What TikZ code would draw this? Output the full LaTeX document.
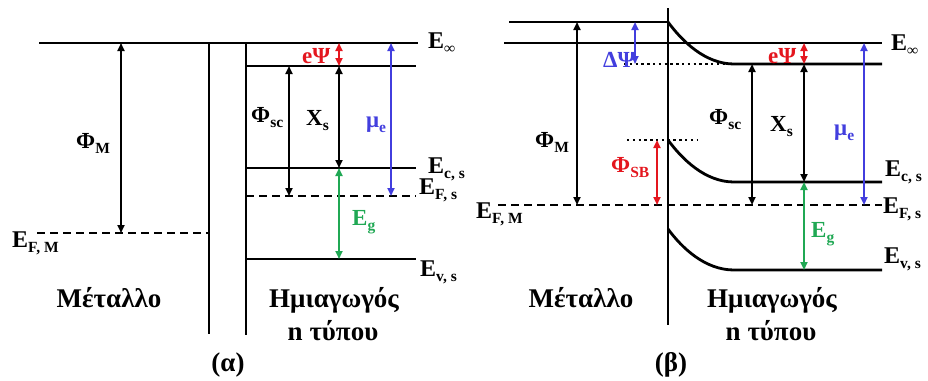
\documentclass[tikz,border=0pt]{standalone}
\usepackage{fontspec}
\setmainfont{Liberation Serif}
\usetikzlibrary{arrows.meta}
\definecolor{myred}{RGB}{228,22,30}
\definecolor{myblue}{RGB}{66,62,222}
\definecolor{mygreen}{RGB}{32,168,84}
\newcommand{\sbs}[1]{\raisebox{-5.5pt}{\fontsize{15.5}{15.5}\selectfont #1}}
\begin{document}
\begin{tikzpicture}[x=1pt,y=-1pt,
  lvl/.style={line width=2.8pt},
  dlvl/.style={line width=2.6pt, dash pattern=on 8pt off 5pt},
  dotl/.style={line width=2.8pt, dash pattern=on 2.4pt off 3.4pt},
  arr/.style={line width=1.9pt, {Triangle[length=8pt,width=7pt]}-{Triangle[length=8pt,width=7pt]}},
  lab/.style={font=\fontsize{23}{23}\selectfont\bfseries, inner sep=0pt, anchor=base west},
  elab/.style={font=\fontsize{24}{24}\selectfont\bfseries, inner sep=0pt, anchor=base west},
  txt/.style={font=\fontsize{27}{27}\selectfont\bfseries, inner sep=0pt, anchor=base},
]
\useasboundingbox (0,0) rectangle (928,380);

% ---------------- (a) ----------------
\draw[lvl] (39,43) -- (418,43);
\draw[lvl] (209,43) -- (209,334);
\draw[lvl] (246,43) -- (246,335);
\draw[lvl] (246,66) -- (416,66);
\draw[lvl] (246,168) -- (416,168);
\draw[dlvl] (246,196) -- (416,196);
\draw[dlvl] (37,233) -- (209,233);
\draw[lvl] (246,259) -- (416,259);

\draw[arr] (121,43) -- (121,233);
\draw[arr] (289,66) -- (289,196);
\draw[arr] (339,66) -- (339,168);
\draw[arr, myred] (339,43) -- (339,66);
\draw[arr, myblue] (391,43) -- (391,196);
\draw[arr, mygreen] (339,168) -- (339,259);

\node[lab] (aPhiM) at (76,148) {Φ\sbs{M}};
\node[lab] (aPhisc) at (251,122) {Φ\sbs{sc}};
\node[lab] (aXs) at (306,125) {X\sbs{s}};
\node[lab, text=myred] (aePsi) at (302,63) {eΨ};
\node[lab, text=myblue] (amue) at (366,127) {μ\sbs{e}};
\node[lab, text=mygreen] (aEg) at (352,225) {E\sbs{g}};

\node[elab] (aEinf) at (428,48) {E\sbs{∞}};
\node[elab] (aEcs) at (428,173) {E\sbs{c, s}};
\node[elab] (aEFs) at (419,194) {E\sbs{F, s}};
\node[elab] (aEvs) at (420,276) {E\sbs{v, s}};
\node[elab] (aEFM) at (12,247) {E\sbs{F, M}};

\node[txt] (aMet) at (109,307) {Μέταλλο};
\node[txt] (aSem1) at (334,307) {Ημιαγωγός};
\node[txt] (aSem2) at (333,340) {n τύπου};
\node[txt] (aCap) at (228,371) {(α)};

% ---------------- (b) ----------------
\draw[lvl] (509,22) -- (668,22);
\draw[lvl] (668,8) -- (668,325);
\draw[lvl] (504,43) -- (882,43);
\draw[lvl] (668,22) .. controls (682,41) and (705,64) .. (734,64) -- (882,64);
\draw[dotl] (624,64) -- (734,64);
\draw[dotl] (627,140) -- (697,140);
\draw[lvl] (668,140) .. controls (682,159) and (705,182) .. (734,182) -- (882,182);
\draw[dlvl] (498,205) -- (882,205);
\draw[lvl] (668,229) .. controls (682,248) and (705,270) .. (734,270) -- (882,270);

\draw[arr] (577,22) -- (577,205);
\draw[arr, myblue] (635,22) -- (635,64);
\draw[arr, myred] (657,140) -- (657,205);
\draw[arr] (752,64) -- (752,205);
\draw[arr] (804,64) -- (804,182);
\draw[arr, myred] (804,43) -- (804,64);
\draw[arr, myblue] (864,43) -- (864,205);
\draw[arr, mygreen] (804,182) -- (804,270);

\node[lab, text=myblue] (bdPsi) at (603,67) {ΔΨ};
\node[lab] (bPhiM) at (535,147) {Φ\sbs{M}};
\node[lab] (bPhisc) at (709,124) {Φ\sbs{sc}};
\node[lab] (bXs) at (770,131) {X\sbs{s}};
\node[lab, text=myred] (bePsi) at (768,63) {eΨ};
\node[lab, text=myblue] (bmue) at (834,135) {μ\sbs{e}};
\node[lab, text=myred] (bPhiSB) at (611,172) {Φ\sbs{SB}};
\node[lab, text=mygreen] (bEg) at (811,237) {E\sbs{g}};

\node[elab] (bEinf) at (891,50) {E\sbs{∞}};
\node[elab] (bEcs) at (885,176) {E\sbs{c, s}};
\node[elab] (bEFs) at (883,213) {E\sbs{F, s}};
\node[elab] (bEvs) at (884,263) {E\sbs{v, s}};
\node[elab] (bEFM) at (476,218) {E\sbs{F, M}};

\node[txt] (bMet) at (581,307) {Μέταλλο};
\node[txt] (bSem1) at (772,307) {Ημιαγωγός};
\node[txt] (bSem2) at (771,340) {n τύπου};
\node[txt] (bCap) at (671,371) {(β)};
\end{tikzpicture}
\end{document}
